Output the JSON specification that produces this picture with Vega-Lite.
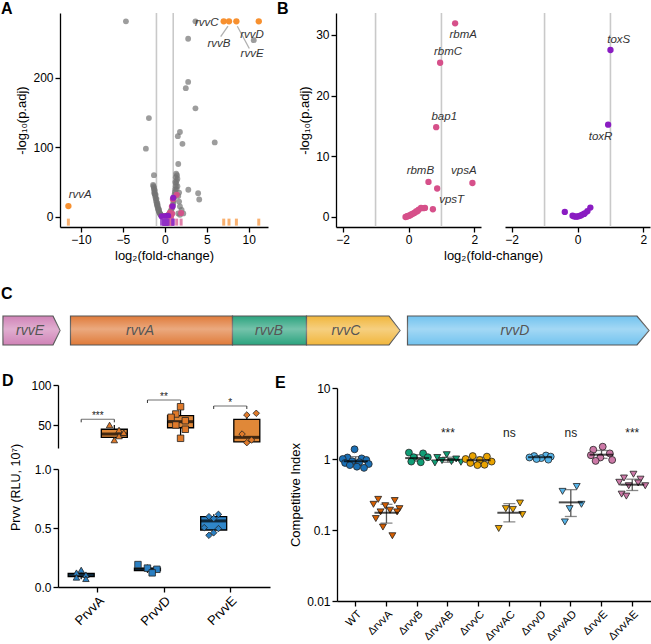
{
"$schema": "https://vega.github.io/schema/vega-lite/v6.json",
"width": 651, "height": 644, "autosize": {"type": "none"}, "padding": 0, "background": "white",
"config": {"font": "Liberation Sans", "view": {"stroke": null},
  "axis": {"grid": false, "domainColor": "#000", "tickColor": "#000", "labelColor": "#000", "titleColor": "#000", "labelFontSize": 12, "titleFontSize": 13, "titleFontWeight": "normal", "tickSize": 5, "domainWidth": 1.3, "tickWidth": 1.3}},
"datasets": {
 "greyA": [{"x":-4.64,"y":281},{"x":3.65,"y":281},{"x":2.78,"y":256},{"x":10.6,"y":254},{"x":2.78,"y":194},{"x":2.5,"y":185},{"x":3.65,"y":156},{"x":-1.9,"y":142},{"x":1.8,"y":122},{"x":1.55,"y":116},{"x":2.1,"y":105},{"x":5.95,"y":107},{"x":-2.26,"y":98},{"x":1.6,"y":76},{"x":-1.3,"y":60},{"x":2.8,"y":39},{"x":3.97,"y":34},{"x":4.1,"y":25},
  {"x":1.35,"y":62},{"x":1.45,"y":60},{"x":1.3,"y":57},{"x":1.5,"y":55},{"x":1.4,"y":52},{"x":1.35,"y":48},{"x":1.3,"y":44},{"x":1.25,"y":40},{"x":1.2,"y":36},{"x":1.15,"y":32},{"x":1.1,"y":28},{"x":1.05,"y":24},{"x":1.0,"y":20},{"x":0.95,"y":17},{"x":0.9,"y":14},{"x":0.8,"y":11},{"x":0.7,"y":8.5},{"x":0.6,"y":6},{"x":0.5,"y":4.2},{"x":0.4,"y":2.8},{"x":0.3,"y":1.7},{"x":0.2,"y":0.9},{"x":0.1,"y":0.4},{"x":0.05,"y":0.15},
  {"x":1.6,"y":30},{"x":1.7,"y":22},{"x":1.8,"y":15},{"x":2.0,"y":10},{"x":1.6,"y":5},{"x":1.8,"y":3},{"x":1.5,"y":44},{"x":1.7,"y":35},{"x":2.2,"y":5},{"x":1.25,"y":50},{"x":1.4,"y":40},
  {"x":-1.35,"y":44},{"x":-1.3,"y":40},{"x":-1.25,"y":36},{"x":-1.2,"y":33},{"x":-1.15,"y":30},{"x":-1.1,"y":27},{"x":-1.05,"y":24},{"x":-1.0,"y":21},{"x":-0.95,"y":18},{"x":-0.9,"y":16},{"x":-0.85,"y":13.5},{"x":-0.8,"y":11.5},{"x":-0.75,"y":9.5},{"x":-0.7,"y":8},{"x":-0.65,"y":6.5},{"x":-0.6,"y":5.2},{"x":-0.55,"y":4.2},{"x":-0.5,"y":3.3},{"x":-0.45,"y":2.5},{"x":-0.4,"y":1.9},{"x":-0.35,"y":1.4},{"x":-0.3,"y":1.0},{"x":-0.25,"y":0.7},{"x":-0.2,"y":0.45},{"x":-0.15,"y":0.25},{"x":-0.1,"y":0.12},{"x":-0.05,"y":0.05},{"x":0,"y":0.02},
  {"x":-1.3,"y":42},{"x":-1.2,"y":38},{"x":-1.1,"y":32},{"x":-1.0,"y":26},{"x":-0.9,"y":20},{"x":-0.85,"y":17},{"x":-0.75,"y":12},{"x":-0.7,"y":10},{"x":-1.4,"y":46},{"x":-1.25,"y":34}],
 "rvv": [{"x":-11.5,"y":15.5,"gene":"rvvA"},{"x":7.02,"y":281,"gene":"rvvC"},{"x":7.65,"y":281,"gene":"rvvB"},{"x":8.53,"y":281,"gene":"rvvE"},{"x":11.2,"y":281,"gene":"rvvD"}],
 "rvvLab": [{"x":-10.1,"y":31.5,"label":"rvvA"},{"x":5.0,"y":278,"label":"rvvC"},{"x":6.46,"y":249,"label":"rvvB"},{"x":10.4,"y":262,"label":"rvvD"},{"x":10.4,"y":234,"label":"rvvE"}],
 "rvvLink": [{"x":7.53,"y":274,"x2":6.66,"y2":259},{"x":8.64,"y":274,"x2":10.07,"y2":242}],
 "bio": [{"x":1.415,"y":31.9},{"x":0.96,"y":25.4},{"x":0.84,"y":14.8},{"x":0.606,"y":5.78},{"x":0.87,"y":4.69},{"x":1.94,"y":5.6},{"x":0.74,"y":1.27},{"x":0.5,"y":1.5},{"x":0.45,"y":1.45},{"x":0.38,"y":1.5},{"x":0.31,"y":1.2},{"x":0.27,"y":0.95},{"x":0.23,"y":0.9},{"x":0.18,"y":0.65},{"x":0.15,"y":0.6},{"x":0.1,"y":0.45},{"x":0.08,"y":0.4},{"x":0.04,"y":0.25},{"x":0.01,"y":0.2},{"x":-0.03,"y":0.12},{"x":-0.05,"y":0.1},{"x":-0.09,"y":0.0}],
 "bioLab": [{"x":1.66,"y":30.0,"label":"rbmA"},{"x":1.2,"y":27.2,"label":"rbmC"},{"x":1.085,"y":16.5,"label":"bap1"},{"x":0.36,"y":7.5,"label":"rbmB"},{"x":1.68,"y":7.5,"label":"vpsA"},{"x":1.31,"y":2.75,"label":"vpsT"}],
 "tox": [{"x":1.0,"y":27.5},{"x":0.93,"y":15.2},{"x":-0.385,"y":0.83},{"x":0.39,"y":1.55},{"x":0.3,"y":0.95},{"x":0.22,"y":0.6},{"x":0.2,"y":0.5},{"x":0.15,"y":0.4},{"x":0.1,"y":0.25},{"x":0.05,"y":0.15},{"x":0.0,"y":0.08},{"x":-0.05,"y":0.05},{"x":-0.1,"y":0.1},{"x":-0.15,"y":0.2}],
 "toxLab": [{"x":1.25,"y":29.2,"label":"toxS"},{"x":0.7,"y":13.2,"label":"toxR"}],
 "vline": [{"v":-1},{"v":1}],
 "genes": [{"gene":"rvvE","pos":0.03,"top":1,"bot":0},{"gene":"rvvE","pos":0.53,"top":1,"bot":0},{"gene":"rvvE","pos":0.60,"top":0.5,"bot":0.5},
  {"gene":"rvvA","pos":0.705,"top":1,"bot":0},{"gene":"rvvA","pos":2.325,"top":1,"bot":0},
  {"gene":"rvvB","pos":2.325,"top":1,"bot":0},{"gene":"rvvB","pos":3.065,"top":1,"bot":0},
  {"gene":"rvvC","pos":3.065,"top":1,"bot":0},{"gene":"rvvC","pos":3.89,"top":1,"bot":0},{"gene":"rvvC","pos":4.0,"top":0.5,"bot":0.5},
  {"gene":"rvvD","pos":4.075,"top":1,"bot":0},{"gene":"rvvD","pos":6.37,"top":1,"bot":0},{"gene":"rvvD","pos":6.49,"top":0.5,"bot":0.5}],
 "geneLab": [{"gene":"rvvE","pos":0.30},{"gene":"rvvA","pos":1.40},{"gene":"rvvB","pos":2.69},{"gene":"rvvC","pos":3.46},{"gene":"rvvD","pos":5.15}],
 "letters": [{"letter":"A","px":0.01,"py":11.85},{"letter":"B","px":2.77,"py":11.85},{"letter":"C","px":0.01,"py":2.03},{"letter":"D","px":0.02,"py":-0.97},{"letter":"E","px":2.75,"py":-1.03}],
 "dboxU": [{"promoter":"PrvvA","slot":"o3","min":31.9,"q1":35.2,"med":39.3,"q3":45.2,"max":50.5},{"promoter":"PrvvD","slot":"o3","min":34,"q1":47.1,"med":54.6,"q3":62,"max":73.1},{"promoter":"PrvvE","slot":"o3","min":28.6,"q1":29.5,"med":35.2,"q3":57.5,"max":65}],
 "dboxL": [{"promoter":"PrvvA","slot":"b3","min":0.065,"q1":0.088,"med":0.1,"q3":0.115,"max":0.144},{"promoter":"PrvvD","slot":"b3","min":0.12,"q1":0.14,"med":0.15,"q3":0.16,"max":0.19},{"promoter":"PrvvE","slot":"b3","min":0.438,"q1":0.483,"med":0.56,"q3":0.597,"max":0.616}],
 "dptsU": [{"promoter":"PrvvA","slot":"o2","v":50.5},{"promoter":"PrvvA","slot":"o4","v":44.3},{"promoter":"PrvvA","slot":"o5","v":41},{"promoter":"PrvvA","slot":"o4","v":36.9},{"promoter":"PrvvA","slot":"o3","v":31.9},
  {"promoter":"PrvvD","slot":"o3","v":73.1},{"promoter":"PrvvD","slot":"o2","v":64.1},{"promoter":"PrvvD","slot":"o1","v":60},{"promoter":"PrvvD","slot":"o4","v":55.8},{"promoter":"PrvvD","slot":"o2","v":50.5},{"promoter":"PrvvD","slot":"o4","v":45.2},{"promoter":"PrvvD","slot":"o3","v":34},
  {"promoter":"PrvvE","slot":"o5","v":65},{"promoter":"PrvvE","slot":"o3","v":62.9},{"promoter":"PrvvE","slot":"o2","v":39.3},{"promoter":"PrvvE","slot":"o4","v":31.9},{"promoter":"PrvvE","slot":"o3","v":28.6}],
 "dptsL": [{"promoter":"PrvvA","slot":"b3","v":0.144},{"promoter":"PrvvA","slot":"b2","v":0.121},{"promoter":"PrvvA","slot":"b4","v":0.104},{"promoter":"PrvvA","slot":"b2","v":0.082},{"promoter":"PrvvA","slot":"b4","v":0.07},
  {"promoter":"PrvvD","slot":"b1","v":0.19},{"promoter":"PrvvD","slot":"b3","v":0.16},{"promoter":"PrvvD","slot":"b5","v":0.15},{"promoter":"PrvvD","slot":"b4","v":0.12},
  {"promoter":"PrvvE","slot":"b4","v":0.616},{"promoter":"PrvvE","slot":"b2","v":0.596},{"promoter":"PrvvE","slot":"b3","v":0.58},{"promoter":"PrvvE","slot":"b1","v":0.503},{"promoter":"PrvvE","slot":"b4","v":0.495},{"promoter":"PrvvE","slot":"b3","v":0.46},{"promoter":"PrvvE","slot":"b2","v":0.438}],
 "dsig": [{"promoter":"PrvvA","y":57.5,"stars":"***"},{"promoter":"PrvvD","y":81.4,"stars":"**"},{"promoter":"PrvvE","y":74,"stars":"*"}],
 "dleg": [{"promoter":"PrvvA","slot":"b3","y":57.5,"y2":53.8},{"promoter":"PrvvA","slot":"o3","y":57.5,"y2":53.8},{"promoter":"PrvvD","slot":"b3","y":81.4,"y2":77.7},{"promoter":"PrvvD","slot":"o3","y":81.4,"y2":77.7},{"promoter":"PrvvE","slot":"b3","y":74,"y2":70.3},{"promoter":"PrvvE","slot":"o3","y":74,"y2":70.3}],
 "esum": [{"strain":"WT","mean":0.93,"lo":0.8,"hi":1.08},{"strain":"ΔrvvA","mean":0.175,"lo":0.125,"hi":0.23},{"strain":"ΔrvvB","mean":1.03,"lo":0.93,"hi":1.15},{"strain":"ΔrvvAB","mean":0.97,"lo":0.9,"hi":1.06},{"strain":"ΔrvvC","mean":0.96,"lo":0.87,"hi":1.06},{"strain":"ΔrvvAC","mean":0.175,"lo":0.13,"hi":0.235},{"strain":"ΔrvvD","mean":1.06,"lo":1.02,"hi":1.11},{"strain":"ΔrvvAD","mean":0.245,"lo":0.155,"hi":0.37},{"strain":"ΔrvvE","mean":1.15,"lo":1.02,"hi":1.32},{"strain":"ΔrvvAE","mean":0.435,"lo":0.36,"hi":0.52}],
 "epts": [
  {"strain":"WT","rvvA":"present","rep":"6","v":1.37},{"strain":"WT","rvvA":"present","rep":"3","v":1.05},{"strain":"WT","rvvA":"present","rep":"9","v":1.02},{"strain":"WT","rvvA":"present","rep":"1","v":1.0},{"strain":"WT","rvvA":"present","rep":"11","v":0.97},{"strain":"WT","rvvA":"present","rep":"5","v":0.93},{"strain":"WT","rvvA":"present","rep":"8","v":0.9},{"strain":"WT","rvvA":"present","rep":"2","v":0.88},{"strain":"WT","rvvA":"present","rep":"12","v":0.85},{"strain":"WT","rvvA":"present","rep":"4","v":0.82},{"strain":"WT","rvvA":"present","rep":"7","v":0.78},{"strain":"WT","rvvA":"present","rep":"10","v":0.75},
  {"strain":"ΔrvvA","rvvA":"deleted","rep":"3","v":0.27},{"strain":"ΔrvvA","rvvA":"deleted","rep":"10","v":0.26},{"strain":"ΔrvvA","rvvA":"deleted","rep":"1","v":0.23},{"strain":"ΔrvvA","rvvA":"deleted","rep":"6","v":0.22},{"strain":"ΔrvvA","rvvA":"deleted","rep":"12","v":0.2},{"strain":"ΔrvvA","rvvA":"deleted","rep":"8","v":0.19},{"strain":"ΔrvvA","rvvA":"deleted","rep":"4","v":0.18},{"strain":"ΔrvvA","rvvA":"deleted","rep":"11","v":0.18},{"strain":"ΔrvvA","rvvA":"deleted","rep":"2","v":0.145},{"strain":"ΔrvvA","rvvA":"deleted","rep":"5","v":0.11},{"strain":"ΔrvvA","rvvA":"deleted","rep":"9","v":0.083},
  {"strain":"ΔrvvB","rvvA":"present","rep":"3","v":1.23},{"strain":"ΔrvvB","rvvA":"present","rep":"9","v":1.2},{"strain":"ΔrvvB","rvvA":"present","rep":"5","v":1.06},{"strain":"ΔrvvB","rvvA":"present","rep":"11","v":1.06},{"strain":"ΔrvvB","rvvA":"present","rep":"4","v":0.92},{"strain":"ΔrvvB","rvvA":"present","rep":"8","v":0.9},
  {"strain":"ΔrvvAB","rvvA":"deleted","rep":"6","v":1.15},{"strain":"ΔrvvAB","rvvA":"deleted","rep":"2","v":1.05},{"strain":"ΔrvvAB","rvvA":"deleted","rep":"10","v":1.0},{"strain":"ΔrvvAB","rvvA":"deleted","rep":"4","v":0.95},{"strain":"ΔrvvAB","rvvA":"deleted","rep":"8","v":0.92},{"strain":"ΔrvvAB","rvvA":"deleted","rep":"12","v":0.9},{"strain":"ΔrvvAB","rvvA":"deleted","rep":"1","v":0.88},
  {"strain":"ΔrvvC","rvvA":"present","rep":"4","v":1.1},{"strain":"ΔrvvC","rvvA":"present","rep":"10","v":1.08},{"strain":"ΔrvvC","rvvA":"present","rep":"1","v":1.0},{"strain":"ΔrvvC","rvvA":"present","rep":"7","v":0.97},{"strain":"ΔrvvC","rvvA":"present","rep":"12","v":0.92},{"strain":"ΔrvvC","rvvA":"present","rep":"3","v":0.88},{"strain":"ΔrvvC","rvvA":"present","rep":"9","v":0.83},{"strain":"ΔrvvC","rvvA":"present","rep":"6","v":0.82},
  {"strain":"ΔrvvAC","rvvA":"deleted","rep":"11","v":0.24},{"strain":"ΔrvvAC","rvvA":"deleted","rep":"5","v":0.2},{"strain":"ΔrvvAC","rvvA":"deleted","rep":"8","v":0.195},{"strain":"ΔrvvAC","rvvA":"deleted","rep":"12","v":0.165},{"strain":"ΔrvvAC","rvvA":"deleted","rep":"2","v":0.105},
  {"strain":"ΔrvvD","rvvA":"present","rep":"9","v":1.12},{"strain":"ΔrvvD","rvvA":"present","rep":"4","v":1.1},{"strain":"ΔrvvD","rvvA":"present","rep":"11","v":1.08},{"strain":"ΔrvvD","rvvA":"present","rep":"2","v":1.05},{"strain":"ΔrvvD","rvvA":"present","rep":"7","v":1.03},{"strain":"ΔrvvD","rvvA":"present","rep":"5","v":1.0},{"strain":"ΔrvvD","rvvA":"present","rep":"10","v":0.98},
  {"strain":"ΔrvvAD","rvvA":"deleted","rep":"9","v":0.41},{"strain":"ΔrvvAD","rvvA":"deleted","rep":"3","v":0.35},{"strain":"ΔrvvAD","rvvA":"deleted","rep":"11","v":0.23},{"strain":"ΔrvvAD","rvvA":"deleted","rep":"6","v":0.2},{"strain":"ΔrvvAD","rvvA":"deleted","rep":"4","v":0.13},
  {"strain":"ΔrvvE","rvvA":"present","rep":"7","v":1.49},{"strain":"ΔrvvE","rvvA":"present","rep":"3","v":1.35},{"strain":"ΔrvvE","rvvA":"present","rep":"10","v":1.2},{"strain":"ΔrvvE","rvvA":"present","rep":"2","v":1.13},{"strain":"ΔrvvE","rvvA":"present","rep":"6","v":1.05},{"strain":"ΔrvvE","rvvA":"present","rep":"11","v":0.97},{"strain":"ΔrvvE","rvvA":"present","rep":"4","v":0.94},
  {"strain":"ΔrvvAE","rvvA":"deleted","rep":"7","v":0.61},{"strain":"ΔrvvAE","rvvA":"deleted","rep":"3","v":0.54},{"strain":"ΔrvvAE","rvvA":"deleted","rep":"10","v":0.52},{"strain":"ΔrvvAE","rvvA":"deleted","rep":"1","v":0.47},{"strain":"ΔrvvAE","rvvA":"deleted","rep":"9","v":0.46},{"strain":"ΔrvvAE","rvvA":"deleted","rep":"5","v":0.42},{"strain":"ΔrvvAE","rvvA":"deleted","rep":"12","v":0.42},{"strain":"ΔrvvAE","rvvA":"deleted","rep":"2","v":0.32},{"strain":"ΔrvvAE","rvvA":"deleted","rep":"4","v":0.3}],
 "esig": [{"strain":"ΔrvvAB","lab":"***"},{"strain":"ΔrvvAC","lab":"ns"},{"strain":"ΔrvvAD","lab":"ns"},{"strain":"ΔrvvAE","lab":"***"}]
},
"layer": [
 {"layer": [
  {"data": {"name": "vline"}, "mark": {"type": "rule", "color": "#c9c9c9", "strokeWidth": 1.6},
   "encoding": {"x": {"field": "v", "type": "quantitative", "scale": {"domain":[-12.5,12.3],"range":[60,268],"nice":false,"zero":false}, "axis": {"orient":"bottom","offset":-417,"values":[-10,-5,0,5,10],"title":"log₂(fold-change)"}},
    "y": {"datum": -14.5, "type": "quantitative", "scale": {"domain":[-14.5,293],"range":[227,13],"nice":false,"zero":false}, "axis": {"orient":"left","offset":-60,"values":[0,100,200],"title":"-log₁₀(p.adj)"}}, "y2": {"datum": 293}}},
  {"mark": {"type": "rule", "color": "#c9c9c9", "strokeWidth": 1.6},
   "encoding": {"x": {"datum": -12.5, "type": "quantitative", "scale": {"domain":[-12.5,12.3],"range":[60,268],"nice":false,"zero":false}, "axis": {"orient":"bottom","offset":-417,"values":[-10,-5,0,5,10],"title":"log₂(fold-change)"}}, "x2": {"datum": 12.3},
    "y": {"datum": 1.3, "type": "quantitative", "scale": {"domain":[-14.5,293],"range":[227,13],"nice":false,"zero":false}, "axis": {"orient":"left","offset":-60,"values":[0,100,200],"title":"-log₁₀(p.adj)"}}}},
  {"data": {"name": "greyA"}, "mark": {"type": "circle", "color": "#737373", "opacity": 0.7, "size": 34},
   "encoding": {"x": {"field": "x", "type": "quantitative", "scale": {"domain":[-12.5,12.3],"range":[60,268],"nice":false,"zero":false}, "axis": {"orient":"bottom","offset":-417,"values":[-10,-5,0,5,10],"title":"log₂(fold-change)"}},
    "y": {"field": "y", "type": "quantitative", "scale": {"domain":[-14.5,293],"range":[227,13],"nice":false,"zero":false}, "axis": {"orient":"left","offset":-60,"values":[0,100,200],"title":"-log₁₀(p.adj)"}}}},
  {"data": {"name": "bio"}, "mark": {"type": "circle", "color": "#d6508a", "opacity": 0.95, "size": 38},
   "encoding": {"x": {"field": "x", "type": "quantitative", "scale": {"domain":[-12.5,12.3],"range":[60,268],"nice":false,"zero":false}, "axis": {"orient":"bottom","offset":-417,"values":[-10,-5,0,5,10],"title":"log₂(fold-change)"}},
    "y": {"field": "y", "type": "quantitative", "scale": {"domain":[-14.5,293],"range":[227,13],"nice":false,"zero":false}, "axis": {"orient":"left","offset":-60,"values":[0,100,200],"title":"-log₁₀(p.adj)"}}}},
  {"data": {"name": "tox"}, "mark": {"type": "circle", "color": "#8a1cc2", "opacity": 0.95, "size": 38},
   "encoding": {"x": {"field": "x", "type": "quantitative", "scale": {"domain":[-12.5,12.3],"range":[60,268],"nice":false,"zero":false}, "axis": {"orient":"bottom","offset":-417,"values":[-10,-5,0,5,10],"title":"log₂(fold-change)"}},
    "y": {"field": "y", "type": "quantitative", "scale": {"domain":[-14.5,293],"range":[227,13],"nice":false,"zero":false}, "axis": {"orient":"left","offset":-60,"values":[0,100,200],"title":"-log₁₀(p.adj)"}}}},
  {"data": {"name": "rvv"}, "mark": {"type": "circle", "color": "#f7902f", "opacity": 1, "size": 40},
   "encoding": {"x": {"field": "x", "type": "quantitative", "scale": {"domain":[-12.5,12.3],"range":[60,268],"nice":false,"zero":false}, "axis": {"orient":"bottom","offset":-417,"values":[-10,-5,0,5,10],"title":"log₂(fold-change)"}},
    "y": {"field": "y", "type": "quantitative", "scale": {"domain":[-14.5,293],"range":[227,13],"nice":false,"zero":false}, "axis": {"orient":"left","offset":-60,"values":[0,100,200],"title":"-log₁₀(p.adj)"}}}},
  {"data": {"name": "bio"}, "mark": {"type": "tick", "orient": "vertical", "color": "#dc6b9b", "opacity": 0.85, "size": 7, "thickness": 3},
   "encoding": {"x": {"field": "x", "type": "quantitative", "scale": {"domain":[-12.5,12.3],"range":[60,268],"nice":false,"zero":false}, "axis": {"orient":"bottom","offset":-417,"values":[-10,-5,0,5,10],"title":"log₂(fold-change)"}},
    "y": {"datum": -7.5, "type": "quantitative", "scale": {"domain":[-14.5,293],"range":[227,13],"nice":false,"zero":false}, "axis": {"orient":"left","offset":-60,"values":[0,100,200],"title":"-log₁₀(p.adj)"}}}},
  {"data": {"name": "tox"}, "mark": {"type": "tick", "orient": "vertical", "color": "#9030c6", "opacity": 0.85, "size": 7, "thickness": 3},
   "encoding": {"x": {"field": "x", "type": "quantitative", "scale": {"domain":[-12.5,12.3],"range":[60,268],"nice":false,"zero":false}, "axis": {"orient":"bottom","offset":-417,"values":[-10,-5,0,5,10],"title":"log₂(fold-change)"}},
    "y": {"datum": -7.5, "type": "quantitative", "scale": {"domain":[-14.5,293],"range":[227,13],"nice":false,"zero":false}, "axis": {"orient":"left","offset":-60,"values":[0,100,200],"title":"-log₁₀(p.adj)"}}}},
  {"data": {"name": "rvv"}, "mark": {"type": "tick", "orient": "vertical", "color": "#f8a860", "opacity": 0.9, "size": 7, "thickness": 3},
   "encoding": {"x": {"field": "x", "type": "quantitative", "scale": {"domain":[-12.5,12.3],"range":[60,268],"nice":false,"zero":false}, "axis": {"orient":"bottom","offset":-417,"values":[-10,-5,0,5,10],"title":"log₂(fold-change)"}},
    "y": {"datum": -7.5, "type": "quantitative", "scale": {"domain":[-14.5,293],"range":[227,13],"nice":false,"zero":false}, "axis": {"orient":"left","offset":-60,"values":[0,100,200],"title":"-log₁₀(p.adj)"}}}},
  {"data": {"name": "rvvLink"}, "mark": {"type": "rule", "color": "#b0b0b0", "strokeWidth": 1.3},
   "encoding": {"x": {"field": "x", "type": "quantitative", "scale": {"domain":[-12.5,12.3],"range":[60,268],"nice":false,"zero":false}, "axis": {"orient":"bottom","offset":-417,"values":[-10,-5,0,5,10],"title":"log₂(fold-change)"}}, "x2": {"field": "x2"},
    "y": {"field": "y", "type": "quantitative", "scale": {"domain":[-14.5,293],"range":[227,13],"nice":false,"zero":false}, "axis": {"orient":"left","offset":-60,"values":[0,100,200],"title":"-log₁₀(p.adj)"}}, "y2": {"field": "y2"}}},
  {"data": {"name": "rvvLab"}, "mark": {"type": "text", "fontStyle": "italic", "fontSize": 11.5, "color": "#333"},
   "encoding": {"x": {"field": "x", "type": "quantitative", "scale": {"domain":[-12.5,12.3],"range":[60,268],"nice":false,"zero":false}, "axis": {"orient":"bottom","offset":-417,"values":[-10,-5,0,5,10],"title":"log₂(fold-change)"}},
    "y": {"field": "y", "type": "quantitative", "scale": {"domain":[-14.5,293],"range":[227,13],"nice":false,"zero":false}, "axis": {"orient":"left","offset":-60,"values":[0,100,200],"title":"-log₁₀(p.adj)"}}, "text": {"field": "label"}}}
 ]},
 {"layer": [
  {"data": {"name": "vline"}, "mark": {"type": "rule", "color": "#c9c9c9", "strokeWidth": 1.6},
   "encoding": {"x": {"field": "v", "type": "quantitative", "scale": {"domain":[-2.2,2.2],"range":[336,481],"nice":false,"zero":false}, "axis": {"orient":"bottom","offset":-417,"values":[-2,0,2],"title":null}},
    "y": {"datum": -1.65, "type": "quantitative", "scale": {"domain":[-1.65,33.6],"range":[227,13],"nice":false,"zero":false}, "axis": {"orient":"left","offset":-336,"values":[0,10,20,30],"title":"-log₁₀(p.adj)"}}, "y2": {"datum": 33.6}}},
  {"mark": {"type": "rule", "color": "#c9c9c9", "strokeWidth": 1.6},
   "encoding": {"x": {"datum": -2.2, "type": "quantitative", "scale": {"domain":[-2.2,2.2],"range":[336,481],"nice":false,"zero":false}, "axis": {"orient":"bottom","offset":-417,"values":[-2,0,2],"title":null}}, "x2": {"datum": 2.2},
    "y": {"datum": 1.3, "type": "quantitative", "scale": {"domain":[-1.65,33.6],"range":[227,13],"nice":false,"zero":false}, "axis": {"orient":"left","offset":-336,"values":[0,10,20,30],"title":"-log₁₀(p.adj)"}}}},
  {"data": {"name": "bio"}, "mark": {"type": "circle", "color": "#d6508a", "opacity": 1, "size": 40},
   "encoding": {"x": {"field": "x", "type": "quantitative", "scale": {"domain":[-2.2,2.2],"range":[336,481],"nice":false,"zero":false}, "axis": {"orient":"bottom","offset":-417,"values":[-2,0,2],"title":null}},
    "y": {"field": "y", "type": "quantitative", "scale": {"domain":[-1.65,33.6],"range":[227,13],"nice":false,"zero":false}, "axis": {"orient":"left","offset":-336,"values":[0,10,20,30],"title":"-log₁₀(p.adj)"}}}},
  {"data": {"name": "bioLab"}, "mark": {"type": "text", "fontStyle": "italic", "fontSize": 11.5, "color": "#333"},
   "encoding": {"x": {"field": "x", "type": "quantitative", "scale": {"domain":[-2.2,2.2],"range":[336,481],"nice":false,"zero":false}, "axis": {"orient":"bottom","offset":-417,"values":[-2,0,2],"title":null}},
    "y": {"field": "y", "type": "quantitative", "scale": {"domain":[-1.65,33.6],"range":[227,13],"nice":false,"zero":false}, "axis": {"orient":"left","offset":-336,"values":[0,10,20,30],"title":"-log₁₀(p.adj)"}}, "text": {"field": "label"}}}
 ]},
 {"layer": [
  {"data": {"name": "vline"}, "mark": {"type": "rule", "color": "#c9c9c9", "strokeWidth": 1.6},
   "encoding": {"x": {"field": "v", "type": "quantitative", "scale": {"domain":[-2.2,2.2],"range":[505,650],"nice":false,"zero":false}, "axis": {"orient":"bottom","offset":-417,"values":[-2,0,2],"title":"log₂(fold-change)","titleX":493}},
    "y": {"datum": -1.65, "type": "quantitative", "scale": {"domain":[-1.65,33.6],"range":[227,13],"nice":false,"zero":false}, "axis": null}, "y2": {"datum": 33.6}}},
  {"mark": {"type": "rule", "color": "#c9c9c9", "strokeWidth": 1.6},
   "encoding": {"x": {"datum": -2.2, "type": "quantitative", "scale": {"domain":[-2.2,2.2],"range":[505,650],"nice":false,"zero":false}, "axis": {"orient":"bottom","offset":-417,"values":[-2,0,2],"title":"log₂(fold-change)","titleX":493}}, "x2": {"datum": 2.2},
    "y": {"datum": 1.3, "type": "quantitative", "scale": {"domain":[-1.65,33.6],"range":[227,13],"nice":false,"zero":false}, "axis": null}}},
  {"data": {"name": "tox"}, "mark": {"type": "circle", "color": "#8a1cc2", "opacity": 1, "size": 40},
   "encoding": {"x": {"field": "x", "type": "quantitative", "scale": {"domain":[-2.2,2.2],"range":[505,650],"nice":false,"zero":false}, "axis": {"orient":"bottom","offset":-417,"values":[-2,0,2],"title":"log₂(fold-change)","titleX":493}},
    "y": {"field": "y", "type": "quantitative", "scale": {"domain":[-1.65,33.6],"range":[227,13],"nice":false,"zero":false}, "axis": null}}},
  {"data": {"name": "toxLab"}, "mark": {"type": "text", "fontStyle": "italic", "fontSize": 11.5, "color": "#333"},
   "encoding": {"x": {"field": "x", "type": "quantitative", "scale": {"domain":[-2.2,2.2],"range":[505,650],"nice":false,"zero":false}, "axis": {"orient":"bottom","offset":-417,"values":[-2,0,2],"title":"log₂(fold-change)","titleX":493}},
    "y": {"field": "y", "type": "quantitative", "scale": {"domain":[-1.65,33.6],"range":[227,13],"nice":false,"zero":false}, "axis": null}, "text": {"field": "label"}}}
 ]},
 {"layer": [
  {"data": {"name": "genes"}, "mark": {"type": "area", "orient": "vertical", "stroke": "#555", "strokeWidth": 1.2, "opacity": 1},
   "encoding": {"x": {"field": "pos", "type": "quantitative", "scale": {"domain":[0,6.51],"range":[0,651],"nice":false,"zero":false}, "axis": null},
    "y": {"field": "top", "type": "quantitative", "scale": {"domain":[0,1],"range":[345,316],"nice":false,"zero":false}, "axis": null}, "y2": {"field": "bot"},
    "color": {"field": "gene", "type": "nominal", "legend": null, "scale": {"domain": ["rvvE","rvvA","rvvB","rvvC","rvvD"], "range": ["#d083b7","#e07b3a","#2ba37e","#f1b63c","#72c3ef"]}}}},
  {"data": {"name": "genes"}, "mark": {"type": "area", "orient": "vertical", "fill": {"gradient": "linear", "x1": 0, "y1": 0, "x2": 0, "y2": 1, "stops": [{"offset": 0, "color": "rgba(255,255,255,0)"}, {"offset": 0.45, "color": "rgba(255,255,255,0.35)"}, {"offset": 1, "color": "rgba(255,255,255,0)"}]}},
   "encoding": {"x": {"field": "pos", "type": "quantitative", "scale": {"domain":[0,6.51],"range":[0,651],"nice":false,"zero":false}, "axis": null},
    "y": {"field": "top", "type": "quantitative", "scale": {"domain":[0,1],"range":[345,316],"nice":false,"zero":false}, "axis": null}, "y2": {"field": "bot"}, "detail": {"field": "gene"}}},
  {"data": {"name": "geneLab"}, "mark": {"type": "text", "fontStyle": "italic", "fontSize": 14, "color": "#555"},
   "encoding": {"x": {"field": "pos", "type": "quantitative", "scale": {"domain":[0,6.51],"range":[0,651],"nice":false,"zero":false}, "axis": null},
    "y": {"datum": 0.5, "type": "quantitative", "scale": {"domain":[0,1],"range":[345,316],"nice":false,"zero":false}, "axis": null}, "text": {"field": "gene"}}},
  {"data": {"name": "letters"}, "mark": {"type": "text", "fontWeight": "bold", "fontSize": 16, "align": "left", "baseline": "top", "color": "#000"},
   "encoding": {"x": {"field": "px", "type": "quantitative", "scale": {"domain":[0,6.51],"range":[0,651],"nice":false,"zero":false}, "axis": null},
    "y": {"field": "py", "type": "quantitative", "scale": {"domain":[0,1],"range":[345,316],"nice":false,"zero":false}, "axis": null}, "text": {"field": "letter"}}}
 ]},
 {"layer": [
  {"data": {"name": "dboxU"}, "mark": {"type": "rule", "color": "#000", "strokeWidth": 1.2},
   "encoding": {"x": {"field": "promoter", "type": "nominal", "scale": {"type":"band","domain":["PrvvA","PrvvD","PrvvE"],"range":[58,270],"paddingInner":0,"paddingOuter":0.1}, "axis": null},
    "xOffset": {"field": "slot", "type": "nominal", "scale": {"domain":["b1","b2","b3","b4","b5","g1","g2","o1","o2","o3","o4","o5"],"paddingInner":0,"paddingOuter":1}},
    "y": {"field": "min", "type": "quantitative", "scale": {"domain":[22,100],"range":[448,385],"nice":false,"zero":false}, "axis": {"orient":"left","offset":-58,"values":[50,100],"title":null}}, "y2": {"field": "max"}}},
  {"data": {"name": "dboxU"}, "mark": {"type": "bar", "color": "#e08838", "stroke": "#000", "strokeWidth": 1.3, "width": 26},
   "encoding": {"x": {"field": "promoter", "type": "nominal", "scale": {"type":"band","domain":["PrvvA","PrvvD","PrvvE"],"range":[58,270],"paddingInner":0,"paddingOuter":0.1}, "axis": null},
    "xOffset": {"field": "slot", "type": "nominal", "scale": {"domain":["b1","b2","b3","b4","b5","g1","g2","o1","o2","o3","o4","o5"],"paddingInner":0,"paddingOuter":1}},
    "y": {"field": "q1", "type": "quantitative", "scale": {"domain":[22,100],"range":[448,385],"nice":false,"zero":false}, "axis": {"orient":"left","offset":-58,"values":[50,100],"title":null}}, "y2": {"field": "q3"}}},
  {"data": {"name": "dboxU"}, "mark": {"type": "tick", "orient": "horizontal", "color": "#000", "size": 26, "thickness": 3},
   "encoding": {"x": {"field": "promoter", "type": "nominal", "scale": {"type":"band","domain":["PrvvA","PrvvD","PrvvE"],"range":[58,270],"paddingInner":0,"paddingOuter":0.1}, "axis": null},
    "xOffset": {"field": "slot", "type": "nominal", "scale": {"domain":["b1","b2","b3","b4","b5","g1","g2","o1","o2","o3","o4","o5"],"paddingInner":0,"paddingOuter":1}},
    "y": {"field": "med", "type": "quantitative", "scale": {"domain":[22,100],"range":[448,385],"nice":false,"zero":false}, "axis": {"orient":"left","offset":-58,"values":[50,100],"title":null}}}},
  {"data": {"name": "dptsU"}, "mark": {"type": "point", "filled": true, "color": "#e07a2a", "stroke": "#222", "strokeWidth": 0.8, "opacity": 1, "size": 42},
   "encoding": {"x": {"field": "promoter", "type": "nominal", "scale": {"type":"band","domain":["PrvvA","PrvvD","PrvvE"],"range":[58,270],"paddingInner":0,"paddingOuter":0.1}, "axis": null},
    "xOffset": {"field": "slot", "type": "nominal", "scale": {"domain":["b1","b2","b3","b4","b5","g1","g2","o1","o2","o3","o4","o5"],"paddingInner":0,"paddingOuter":1}},
    "y": {"field": "v", "type": "quantitative", "scale": {"domain":[22,100],"range":[448,385],"nice":false,"zero":false}, "axis": {"orient":"left","offset":-58,"values":[50,100],"title":null}},
    "shape": {"field": "promoter", "type": "nominal", "legend": null, "scale": {"domain": ["PrvvA","PrvvD","PrvvE"], "range": ["triangle-up","square","diamond"]}}}},
  {"data": {"name": "dsig"}, "mark": {"type": "tick", "orient": "horizontal", "color": "#333", "size": 33, "thickness": 1},
   "encoding": {"x": {"field": "promoter", "type": "nominal", "scale": {"type":"band","domain":["PrvvA","PrvvD","PrvvE"],"range":[58,270],"paddingInner":0,"paddingOuter":0.1}, "axis": null},
    "y": {"field": "y", "type": "quantitative", "scale": {"domain":[22,100],"range":[448,385],"nice":false,"zero":false}, "axis": {"orient":"left","offset":-58,"values":[50,100],"title":null}}}},
  {"data": {"name": "dleg"}, "mark": {"type": "rule", "color": "#333", "strokeWidth": 1},
   "encoding": {"x": {"field": "promoter", "type": "nominal", "scale": {"type":"band","domain":["PrvvA","PrvvD","PrvvE"],"range":[58,270],"paddingInner":0,"paddingOuter":0.1}, "axis": null},
    "xOffset": {"field": "slot", "type": "nominal", "scale": {"domain":["b1","b2","b3","b4","b5","g1","g2","o1","o2","o3","o4","o5"],"paddingInner":0,"paddingOuter":1}},
    "y": {"field": "y", "type": "quantitative", "scale": {"domain":[22,100],"range":[448,385],"nice":false,"zero":false}, "axis": {"orient":"left","offset":-58,"values":[50,100],"title":null}}, "y2": {"field": "y2"}}},
  {"data": {"name": "dsig"}, "mark": {"type": "text", "fontSize": 10, "color": "#222", "baseline": "alphabetic"},
   "encoding": {"x": {"field": "promoter", "type": "nominal", "scale": {"type":"band","domain":["PrvvA","PrvvD","PrvvE"],"range":[58,270],"paddingInner":0,"paddingOuter":0.1}, "axis": null},
    "y": {"field": "y", "type": "quantitative", "scale": {"domain":[22,100],"range":[448,385],"nice":false,"zero":false}, "axis": {"orient":"left","offset":-58,"values":[50,100],"title":null}}, "text": {"field": "stars"}}}
 ]},
 {"layer": [
  {"data": {"name": "dboxL"}, "mark": {"type": "rule", "color": "#000", "strokeWidth": 1.2},
   "encoding": {"x": {"field": "promoter", "type": "nominal", "scale": {"type":"band","domain":["PrvvA","PrvvD","PrvvE"],"range":[58,270],"paddingInner":0,"paddingOuter":0.1}, "axis": {"orient":"bottom","offset":-57,"title":null,"labelAngle":-45,"labelFontSize":13}},
    "xOffset": {"field": "slot", "type": "nominal", "scale": {"domain":["b1","b2","b3","b4","b5","g1","g2","o1","o2","o3","o4","o5"],"paddingInner":0,"paddingOuter":1}},
    "y": {"field": "min", "type": "quantitative", "scale": {"domain":[0,1],"range":[587,469],"nice":false,"zero":false}, "axis": {"orient":"left","offset":-58,"values":[0,0.5,1],"title":"Prvv (RLU, 10⁷)","titleY":487,"titlePadding":12,"titleFontSize":12.5}}, "y2": {"field": "max"}}},
  {"data": {"name": "dboxL"}, "mark": {"type": "bar", "color": "#2f86c9", "stroke": "#000", "strokeWidth": 1.3, "width": 26},
   "encoding": {"x": {"field": "promoter", "type": "nominal", "scale": {"type":"band","domain":["PrvvA","PrvvD","PrvvE"],"range":[58,270],"paddingInner":0,"paddingOuter":0.1}, "axis": {"orient":"bottom","offset":-57,"title":null,"labelAngle":-45,"labelFontSize":13}},
    "xOffset": {"field": "slot", "type": "nominal", "scale": {"domain":["b1","b2","b3","b4","b5","g1","g2","o1","o2","o3","o4","o5"],"paddingInner":0,"paddingOuter":1}},
    "y": {"field": "q1", "type": "quantitative", "scale": {"domain":[0,1],"range":[587,469],"nice":false,"zero":false}, "axis": {"orient":"left","offset":-58,"values":[0,0.5,1],"title":"Prvv (RLU, 10⁷)","titleY":487,"titlePadding":12,"titleFontSize":12.5}}, "y2": {"field": "q3"}}},
  {"data": {"name": "dboxL"}, "mark": {"type": "tick", "orient": "horizontal", "color": "#000", "size": 26, "thickness": 3},
   "encoding": {"x": {"field": "promoter", "type": "nominal", "scale": {"type":"band","domain":["PrvvA","PrvvD","PrvvE"],"range":[58,270],"paddingInner":0,"paddingOuter":0.1}, "axis": {"orient":"bottom","offset":-57,"title":null,"labelAngle":-45,"labelFontSize":13}},
    "xOffset": {"field": "slot", "type": "nominal", "scale": {"domain":["b1","b2","b3","b4","b5","g1","g2","o1","o2","o3","o4","o5"],"paddingInner":0,"paddingOuter":1}},
    "y": {"field": "med", "type": "quantitative", "scale": {"domain":[0,1],"range":[587,469],"nice":false,"zero":false}, "axis": {"orient":"left","offset":-58,"values":[0,0.5,1],"title":"Prvv (RLU, 10⁷)","titleY":487,"titlePadding":12,"titleFontSize":12.5}}}},
  {"data": {"name": "dptsL"}, "mark": {"type": "point", "filled": true, "color": "#2a7fc2", "stroke": "#222", "strokeWidth": 0.8, "opacity": 1, "size": 42},
   "encoding": {"x": {"field": "promoter", "type": "nominal", "scale": {"type":"band","domain":["PrvvA","PrvvD","PrvvE"],"range":[58,270],"paddingInner":0,"paddingOuter":0.1}, "axis": {"orient":"bottom","offset":-57,"title":null,"labelAngle":-45,"labelFontSize":13}},
    "xOffset": {"field": "slot", "type": "nominal", "scale": {"domain":["b1","b2","b3","b4","b5","g1","g2","o1","o2","o3","o4","o5"],"paddingInner":0,"paddingOuter":1}},
    "y": {"field": "v", "type": "quantitative", "scale": {"domain":[0,1],"range":[587,469],"nice":false,"zero":false}, "axis": {"orient":"left","offset":-58,"values":[0,0.5,1],"title":"Prvv (RLU, 10⁷)","titleY":487,"titlePadding":12,"titleFontSize":12.5}},
    "shape": {"field": "promoter", "type": "nominal", "legend": null, "scale": {"domain": ["PrvvA","PrvvD","PrvvE"], "range": ["triangle-up","square","diamond"]}}}}
 ]},
 {"layer": [
  {"data": {"name": "esum"}, "mark": {"type": "rule", "color": "#555", "strokeWidth": 1.3},
   "encoding": {"x": {"field": "strain", "type": "nominal", "sort": null, "scale": {"type":"band","domain":["WT","ΔrvvA","ΔrvvB","ΔrvvAB","ΔrvvC","ΔrvvAC","ΔrvvD","ΔrvvAD","ΔrvvE","ΔrvvAE"],"range":[337,651],"paddingInner":0,"paddingOuter":0.11}, "axis": {"orient":"bottom","offset":-43,"title":null,"labelAngle":-45,"labelFontSize":11}},
    "y": {"field": "lo", "type": "quantitative", "scale": {"type":"log","domain":[0.01,10],"range":[601,388],"nice":false}, "axis": {"orient":"left","offset":-337,"values":[0.01,0.1,1,10],"format":"~g","title":"Competitive Index"}}, "y2": {"field": "hi"}}},
  {"data": {"name": "esum"}, "mark": {"type": "tick", "orient": "horizontal", "color": "#555", "size": 12, "thickness": 1.3},
   "encoding": {"x": {"field": "strain", "type": "nominal", "sort": null, "scale": {"type":"band","domain":["WT","ΔrvvA","ΔrvvB","ΔrvvAB","ΔrvvC","ΔrvvAC","ΔrvvD","ΔrvvAD","ΔrvvE","ΔrvvAE"],"range":[337,651],"paddingInner":0,"paddingOuter":0.11}, "axis": {"orient":"bottom","offset":-43,"title":null,"labelAngle":-45,"labelFontSize":11}},
    "y": {"field": "lo", "type": "quantitative", "scale": {"type":"log","domain":[0.01,10],"range":[601,388],"nice":false}, "axis": {"orient":"left","offset":-337,"values":[0.01,0.1,1,10],"format":"~g","title":"Competitive Index"}}}},
  {"data": {"name": "esum"}, "mark": {"type": "tick", "orient": "horizontal", "color": "#555", "size": 12, "thickness": 1.3},
   "encoding": {"x": {"field": "strain", "type": "nominal", "sort": null, "scale": {"type":"band","domain":["WT","ΔrvvA","ΔrvvB","ΔrvvAB","ΔrvvC","ΔrvvAC","ΔrvvD","ΔrvvAD","ΔrvvE","ΔrvvAE"],"range":[337,651],"paddingInner":0,"paddingOuter":0.11}, "axis": {"orient":"bottom","offset":-43,"title":null,"labelAngle":-45,"labelFontSize":11}},
    "y": {"field": "hi", "type": "quantitative", "scale": {"type":"log","domain":[0.01,10],"range":[601,388],"nice":false}, "axis": {"orient":"left","offset":-337,"values":[0.01,0.1,1,10],"format":"~g","title":"Competitive Index"}}}},
  {"data": {"name": "epts"}, "mark": {"type": "point", "filled": true, "stroke": "#222", "strokeWidth": 0.8, "opacity": 1, "size": 48},
   "encoding": {"x": {"field": "strain", "type": "nominal", "sort": null, "scale": {"type":"band","domain":["WT","ΔrvvA","ΔrvvB","ΔrvvAB","ΔrvvC","ΔrvvAC","ΔrvvD","ΔrvvAD","ΔrvvE","ΔrvvAE"],"range":[337,651],"paddingInner":0,"paddingOuter":0.11}, "axis": {"orient":"bottom","offset":-43,"title":null,"labelAngle":-45,"labelFontSize":11}},
    "xOffset": {"field": "rep", "type": "nominal", "scale": {"domain":["1","2","3","4","5","6","7","8","9","10","11","12"],"paddingInner":0,"paddingOuter":2}},
    "y": {"field": "v", "type": "quantitative", "scale": {"type":"log","domain":[0.01,10],"range":[601,388],"nice":false}, "axis": {"orient":"left","offset":-337,"values":[0.01,0.1,1,10],"format":"~g","title":"Competitive Index"}},
    "color": {"field": "strain", "type": "nominal", "legend": null, "scale": {"domain":["WT","ΔrvvA","ΔrvvB","ΔrvvAB","ΔrvvC","ΔrvvAC","ΔrvvD","ΔrvvAD","ΔrvvE","ΔrvvAE"], "range": ["#1a6fb5","#d55e00","#109e76","#109e76","#e9a300","#e9a300","#56b4e9","#56b4e9","#cc79a7","#cc79a7"]}},
    "shape": {"field": "rvvA", "type": "nominal", "legend": null, "scale": {"domain": ["present","deleted"], "range": ["circle","triangle-down"]}}}},
  {"data": {"name": "esum"}, "mark": {"type": "tick", "orient": "horizontal", "color": "#000", "size": 24, "thickness": 2},
   "encoding": {"x": {"field": "strain", "type": "nominal", "sort": null, "scale": {"type":"band","domain":["WT","ΔrvvA","ΔrvvB","ΔrvvAB","ΔrvvC","ΔrvvAC","ΔrvvD","ΔrvvAD","ΔrvvE","ΔrvvAE"],"range":[337,651],"paddingInner":0,"paddingOuter":0.11}, "axis": {"orient":"bottom","offset":-43,"title":null,"labelAngle":-45,"labelFontSize":11}},
    "y": {"field": "mean", "type": "quantitative", "scale": {"type":"log","domain":[0.01,10],"range":[601,388],"nice":false}, "axis": {"orient":"left","offset":-337,"values":[0.01,0.1,1,10],"format":"~g","title":"Competitive Index"}}}},
  {"data": {"name": "esig"}, "mark": {"type": "text", "fontSize": 12, "color": "#222", "baseline": "middle"},
   "encoding": {"x": {"field": "strain", "type": "nominal", "sort": null, "scale": {"type":"band","domain":["WT","ΔrvvA","ΔrvvB","ΔrvvAB","ΔrvvC","ΔrvvAC","ΔrvvD","ΔrvvAD","ΔrvvE","ΔrvvAE"],"range":[337,651],"paddingInner":0,"paddingOuter":0.11}, "axis": {"orient":"bottom","offset":-43,"title":null,"labelAngle":-45,"labelFontSize":11}},
    "y": {"datum": 2.3, "type": "quantitative", "scale": {"type":"log","domain":[0.01,10],"range":[601,388],"nice":false}, "axis": {"orient":"left","offset":-337,"values":[0.01,0.1,1,10],"format":"~g","title":"Competitive Index"}}, "text": {"field": "lab"}}}
 ]}
],
"resolve": {"scale": {"x": "independent", "y": "independent", "xOffset": "independent", "color": "independent", "shape": "independent"}}
}
